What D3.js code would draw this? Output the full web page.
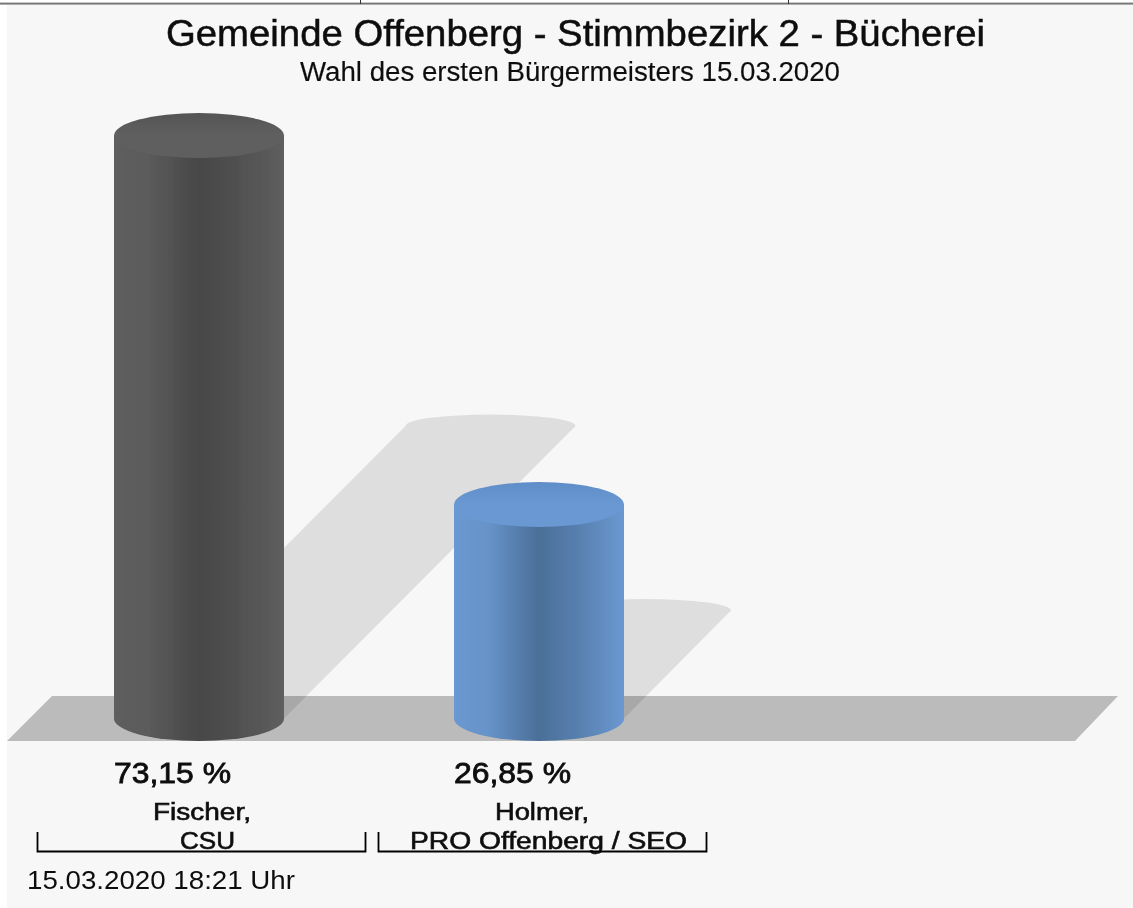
<!DOCTYPE html>
<html><head><meta charset="utf-8">
<script src="https://cdn.jsdelivr.net/npm/d3@7"></script>
<style>
html,body{margin:0;padding:0;background:#fff;overflow:hidden}
text{font-family:"Liberation Sans",Arial,sans-serif;fill:#111}
</style></head><body>
<svg id="c" width="1133" height="908"></svg>
<script>
const candidates = ["Fischer,", "Holmer,"];
const parties = ["CSU", "PRO Offenberg / SEO"];
const shares = [73.15, 26.85];
const shareLabels = ["73,15 %", "26,85 %"];
const barColors = [
  {edge:"#5e5e5e", mid:"#474747", top:"#5f5f5f", rim:"#555555"},
  {edge:"#6a98d0", mid:"#4b6f98", top:"#6a98d2", rim:"#5f8dc8"}
];
const titleText = "Gemeinde Offenberg - Stimmbezirk 2 - Bücherei";
const subtitleText = "Wahl des ersten Bürgermeisters 15.03.2020";
const stampText = "15.03.2020 18:21 Uhr";

const svg = d3.select("#c");
const defs = svg.append("defs");
defs.append("filter").attr("id","soft").attr("x","-5%").attr("y","-5%").attr("width","110%").attr("height","110%")
  .append("feGaussianBlur").attr("stdDeviation",0.7);

// scales
const y = d3.scaleLinear().domain([0,73.15]).range([718.5,135.5]);
const x = d3.scaleBand().domain(d3.range(3)).range([114,1134]);
const barW = 170, rx = barW/2, ry = 22.5, shadowRy = 11.5;
const cx = i => x(i) + rx;
const bracket = d3.scaleBand().domain(d3.range(2)).range([37,719]);

// page
svg.append("rect").attr("width",1133).attr("height",908).attr("fill","#fff");
svg.append("rect").attr("x",0).attr("y",2.6).attr("width",1133).attr("height",2).attr("fill","#777");
[360,788].forEach(px=>svg.append("rect").attr("x",px).attr("y",0).attr("width",1).attr("height",4).attr("fill","#333"));
svg.append("rect").attr("x",7).attr("y",5).attr("width",1126).attr("height",903).attr("fill","#f7f7f7");

const g = svg.append("g").attr("filter","url(#soft)");

// floor
g.append("path").attr("d",d3.line()([[52,696],[1118,696],[1075,741],[7,741]])).attr("fill","#bbbbbb");

// shadows: half the bar height, sheared to the right
shares.forEach((v,i)=>{
  const h = y(0)-y(v), s = h/2, b = y(0), l = x(i), r = l+barW;
  const ty = b-s-1;
  const p = `M${l},${b}L${l+s},${ty}`+
    `A${rx},${shadowRy} 0 0 1 ${r+s},${ty}`+
    `L${r},${b}Z`;
  g.append("path").attr("d",p).attr("fill","#000").attr("fill-opacity",0.1);
});

// cylinders
shares.forEach((v,i)=>{
  const c = barColors[i], id = "grad"+i;
  const gr = defs.append("linearGradient").attr("id",id);
  [[0,c.edge],[0.2,d3.interpolateRgb(c.edge,c.mid)(0.12)],[0.5,c.mid],[0.72,d3.interpolateRgb(c.mid,c.edge)(0.4)],[1,c.edge]]
    .forEach(s=>gr.append("stop").attr("offset",s[0]).attr("stop-color",s[1]));
  const l = x(i), r = l+barW, t = y(v), b = y(0);
  g.append("path")
    .attr("d",`M${l},${t}L${l},${b}A${rx},${ry} 0 0 0 ${r},${b}L${r},${t}Z`)
    .attr("fill",`url(#${id})`);
  const rg = defs.append("linearGradient").attr("id",id+"t").attr("x1",0).attr("x2",0).attr("y1",0).attr("y2",1);
  rg.append("stop").attr("offset",0).attr("stop-color",c.rim);
  rg.append("stop").attr("offset",0.5).attr("stop-color",c.top);
  rg.append("stop").attr("offset",1).attr("stop-color",c.top);
  g.append("ellipse").attr("cx",cx(i)).attr("cy",t).attr("rx",rx).attr("ry",ry).attr("fill",`url(#${id}t)`);
});

function fit(sel, attrs){
  const t = sel.append("text");
  Object.entries(attrs).forEach(([k,v])=>t.attr(k,v));
  t.style("stroke","#111").style("stroke-width",attrs.sw||0);
  return t;
}

// titles
fit(g,{x:166,y:46,"font-size":36,textLength:819,lengthAdjust:"spacingAndGlyphs",sw:0.5}).text(titleText);
fit(g,{x:300,y:81,"font-size":27,textLength:540,lengthAdjust:"spacingAndGlyphs",sw:0.15}).text(subtitleText);

// percent labels
shareLabels.forEach((s,i)=>{
  fit(g,{x:x(i),y:783,"font-size":29,textLength:117,lengthAdjust:"spacingAndGlyphs",sw:0.8}).text(s);
});

// category labels and brackets
const catW = [[153,251],[495,589]], partyW = [[180,235],[410,687]];
candidates.forEach((n,i)=>{
  fit(g,{x:catW[i][0],y:820,"font-size":23,textLength:catW[i][1]-catW[i][0],lengthAdjust:"spacingAndGlyphs",sw:0.6}).text(n);
  fit(g,{x:partyW[i][0],y:849,"font-size":23,textLength:partyW[i][1]-partyW[i][0],lengthAdjust:"spacingAndGlyphs",sw:0.6}).text(parties[i]);
  const l = bracket(i), r = l+bracket.bandwidth()-13;
  g.append("path").attr("d",`M${l+.5},832V851.5H${r+.5}V832`).attr("fill","none").attr("stroke","#000").attr("stroke-width",1.8);
});

fit(g,{x:27,y:889,"font-size":26,textLength:268,lengthAdjust:"spacingAndGlyphs",sw:0}).text(stampText);
</script>
</body></html>
